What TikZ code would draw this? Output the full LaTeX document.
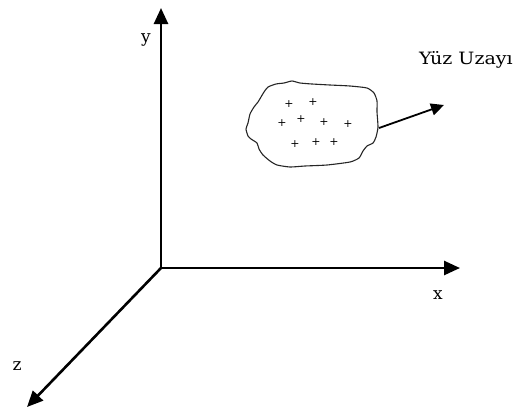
\documentclass[tikz,border=0pt]{standalone}
\usepackage{fontspec}
\setmainfont{DejaVu Serif}
\usetikzlibrary{arrows.meta}
\tikzset{
  axis/.style={line width=2.6pt,-{Triangle[length=16pt,width=14pt]}},
  lbl/.style={font=\fontsize{17}{19}\selectfont,inner sep=0pt},
  blob/.style={line width=1.1pt,draw=black!85},
  pt/.style={font=\fontsize{11}{12}\selectfont,inner sep=0pt},
  vec/.style={line width=1.8pt,-{Triangle[length=13pt,width=12pt]}}
}
\begin{document}
\begin{tikzpicture}[x=1pt,y=-1pt]
\useasboundingbox (0,0) rectangle (521,410);
\coordinate (O) at (161,268);
\coordinate (Y) at (161,8);
\coordinate (X) at (460,268);
\coordinate (Z) at (27,407);
\draw[axis] (O) -- (Y);
\draw[axis] (O) -- (X);
\draw[axis] (O) -- (Z);
\node[lbl] (ly) at (146,40) {y};
\node[lbl] (lx) at (438,295) {x};
\node[lbl] (lz) at (17,366) {z};
\draw[blob] plot[smooth cycle,tension=0.35] coordinates {
 (268,87) (276,84) (284,83) (292,81) (300,83) (312,84) (330,85) (350,86) (367,88)
 (374,93) (377,101) (377,112) (378,127) (376,137) (373,143) (367,146)
 (363,151) (359,158) (350,162) (327,165) (305,166) (290,167) (277,165)
 (270,161) (263,155) (259,149) (257,143) (251,139) (248,136) (246,129)
 (248,123) (250,114) (254,107) (258,102) (261,97) (264,92)};
\foreach \p/\q [count=\i] in {289/104,313/102,282/123,301/119,324/122,348/124,295/144,316/142,334/142}
  \node[pt] (p\i) at (\p,\q) {+};
\coordinate (bs) at (379,128);
\coordinate (be) at (444,105);
\draw[vec] (bs) -- (be);
\node[lbl,xscale=1.12,anchor=base] (face) at (466,64) {Yüz Uzayı};
\end{tikzpicture}
\end{document}
